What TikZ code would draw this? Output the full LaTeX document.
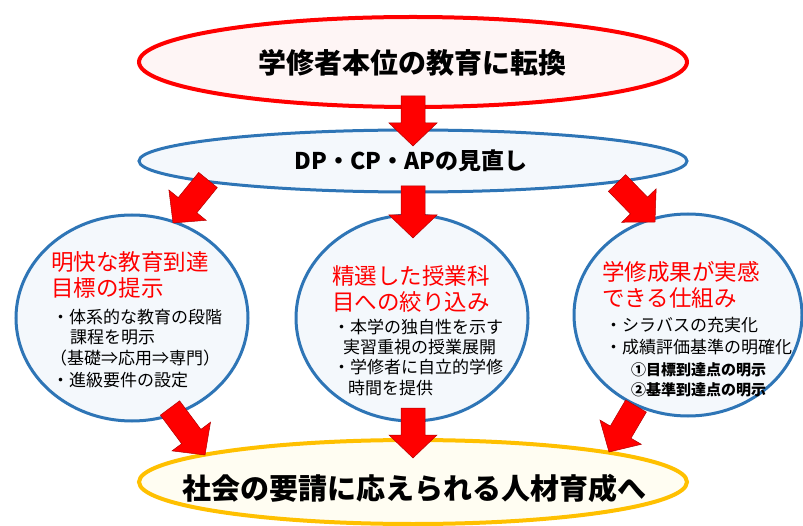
\documentclass[tikz,border=0pt]{standalone}
\usepackage{fontspec}
\setmainfont{Noto Sans CJK JP}
\usetikzlibrary{calc,shapes.geometric}
\definecolor{cred}{HTML}{FF0000}
\definecolor{cblue}{HTML}{2E75B6}
\definecolor{cgold}{HTML}{FFC000}
\definecolor{fpink}{HTML}{FEF5F5}
\definecolor{fblue}{HTML}{F4F8FC}
\definecolor{fyel}{HTML}{FFFDF2}
\newcommand{\fs}[1]{\fontsize{#1}{#1}\selectfont}
\newcommand{\blockarrow}[2]{%
  \filldraw[barrowstyle]
    ($(#1)!12pt!90:(#2)$) --
    ($($(#2)!23pt!(#1)$)!12pt!90:(#2)$) --
    ($($(#2)!23pt!(#1)$)!24pt!90:(#2)$) --
    (#2) --
    ($($(#2)!23pt!(#1)$)!24pt!-90:(#2)$) --
    ($($(#2)!23pt!(#1)$)!12pt!-90:(#2)$) --
    ($(#1)!12pt!-90:(#2)$) -- cycle;}
\begin{document}
\begin{tikzpicture}[x=1pt,y=1pt,
  barrowstyle/.style={fill=cred, draw=red!70!black, line width=0.5pt, line join=miter},
  oval/.style={ellipse, inner sep=0pt},
  bigtxt/.style={font=\fs{28}\bfseries, inner sep=0pt},
  ttl/.style={font=\fs{22.5}, text=cred, anchor=west, inner sep=0pt},
  bul/.style={font=\fs{17}, anchor=west, inner sep=0pt},
  sub/.style={font=\fs{15}\bfseries, anchor=west, inner sep=0pt}]
\useasboundingbox (0,0) rectangle (803,-526);
\fill[white] (0,0) rectangle (803,-526);

% ovals
\node[oval, minimum width=548pt, minimum height=90pt, draw=cred, line width=4pt, fill=fpink] (top) at (413,-62) {};
\node[oval, minimum width=548pt, minimum height=62pt, draw=cblue, line width=3pt, fill=fblue] (dp) at (413,-161) {};
\node[oval, minimum width=232pt, minimum height=206pt, draw=cblue, line width=3pt, fill=fblue] (cl) at (132,-318) {};
\node[oval, minimum width=232pt, minimum height=206pt, draw=cblue, line width=3pt, fill=fblue] (cm) at (412,-318) {};
\node[oval, minimum width=228pt, minimum height=202pt, draw=cblue, line width=3pt, fill=fblue] (cr) at (688,-315) {};
\node[oval, minimum width=548pt, minimum height=84pt, draw=cgold, line width=4pt, fill=fyel] (bot) at (413,-482) {};

% main texts
\node[bigtxt] (ttop) at (412,-63) {学修者本位の教育に転換};
\node[font=\fs{23}\bfseries, inner sep=0pt] (tdp) at (411,-161) {DP・CP・APの見直し};
\node[font=\fs{29}\bfseries, inner sep=0pt] (tbot) at (414,-488) {社会の要請に応えられる人材育成へ};

% left circle
\node[ttl] (l1) at (51,-262) {明快な教育到達};
\node[ttl] (l2) at (51,-288) {目標の提示};
\node[bul] (l3) at (52,-317) {・体系的な教育の段階};
\node[bul] (l4) at (70,-337) {課程を明示};
\node[bul] (l5) at (50,-358) {（基礎⇒応用⇒専門）};
\node[bul] (l6) at (52,-380) {・進級要件の設定};

% middle circle
\node[ttl] (m1) at (332,-276) {精選した授業科};
\node[ttl] (m2) at (332,-302) {目への絞り込み};
\node[bul] (m3) at (333,-327) {・本学の独自性を示す};
\node[bul] (m4) at (343,-347) {実習重視の授業展開};
\node[bul] (m5) at (333,-367) {・学修者に自立的学修};
\node[bul] (m6) at (348,-388) {時間を提供};

% right circle
\node[ttl] (r1) at (602,-272) {学修成果が実感};
\node[ttl] (r2) at (602,-298) {できる仕組み};
\node[bul] (r3) at (605,-325) {・シラバスの充実化};
\node[bul] (r4) at (605,-347) {・成績評価基準の明確化};
\node[sub] (r5) at (631,-370) {①目標到達点の明示};
\node[sub] (r6) at (631,-390) {②基準到達点の明示};

% arrow end points
\coordinate (a1s) at (413,-96);  \coordinate (a1e) at (413,-146);
\coordinate (a2s) at (208,-180); \coordinate (a2e) at (173,-223);
\coordinate (a3s) at (413,-186); \coordinate (a3e) at (413,-238);
\coordinate (a4s) at (617,-183); \coordinate (a4e) at (655,-222);
\coordinate (a5s) at (170,-408); \coordinate (a5e) at (205,-455);
\coordinate (a6s) at (413,-408); \coordinate (a6e) at (413,-458);
\coordinate (a7s) at (636,-406); \coordinate (a7e) at (609,-452);

\blockarrow{a1s}{a1e}
\blockarrow{a2s}{a2e}
\blockarrow{a3s}{a3e}
\blockarrow{a4s}{a4e}
\blockarrow{a5s}{a5e}
\blockarrow{a6s}{a6e}
\blockarrow{a7s}{a7e}
\end{tikzpicture}
\end{document}
